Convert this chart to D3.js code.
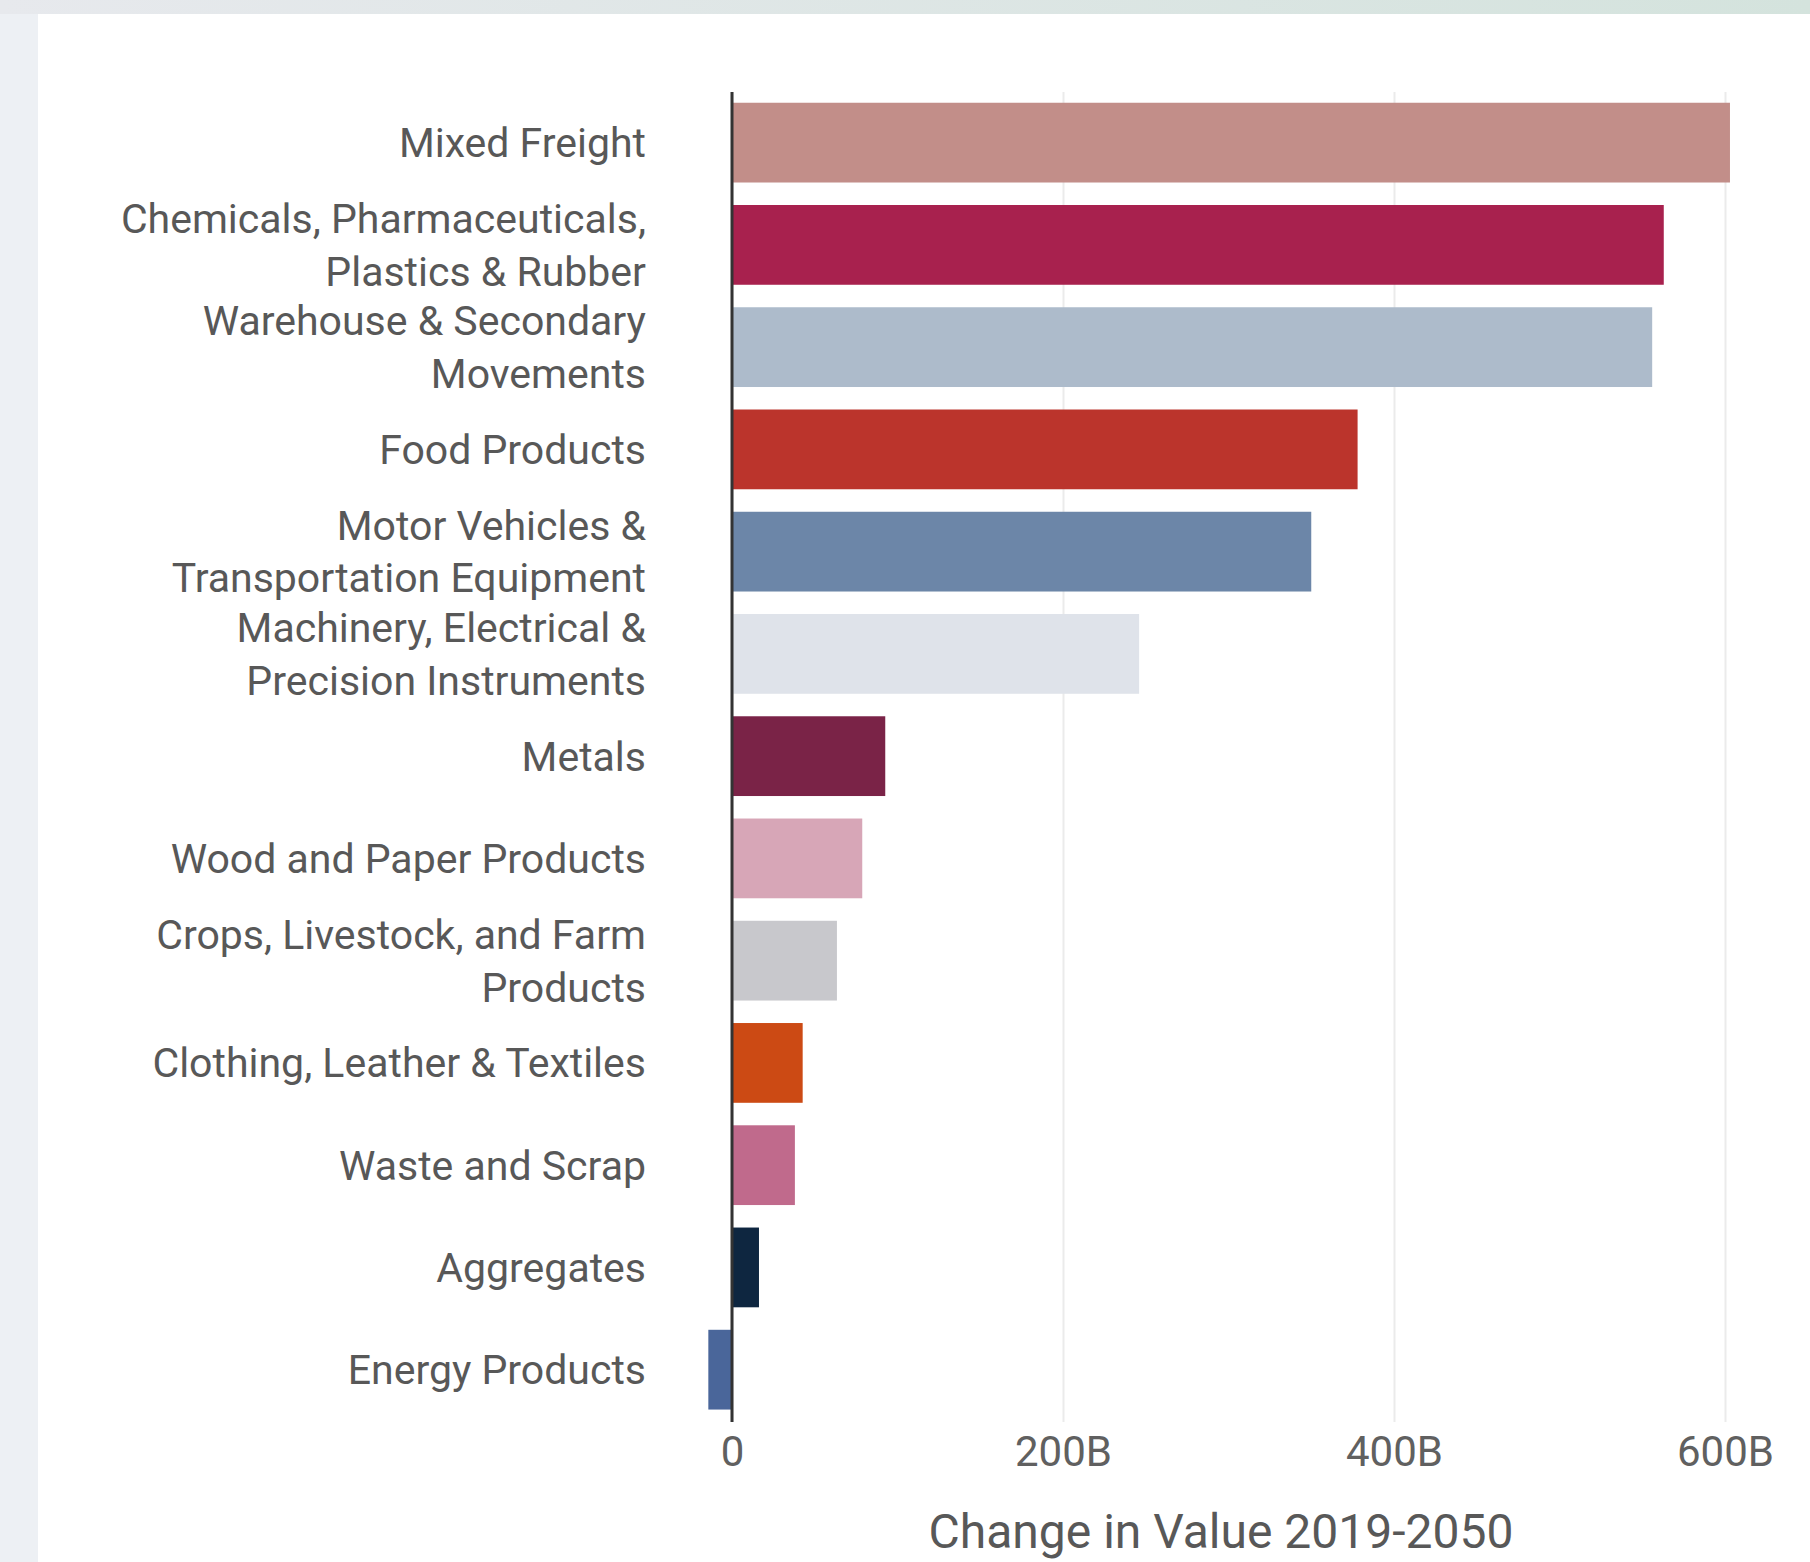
<!DOCTYPE html>
<html>
<head>
<meta charset="utf-8">
<script src="https://cdn.jsdelivr.net/npm/d3@7"></script>
<style>
  body { margin: 0; background: #edf0f4; }
  svg { display: block; font-family: Roboto, "Noto Sans", sans-serif; }
</style>
</head>
<body>
<div id="chart"></div>
<script>
// commodity groups, top to bottom
var categories = [
  "Mixed Freight",
  "Chemicals, Pharmaceuticals, Plastics & Rubber",
  "Warehouse & Secondary Movements",
  "Food Products",
  "Motor Vehicles & Transportation Equipment",
  "Machinery, Electrical & Precision Instruments",
  "Metals",
  "Wood and Paper Products",
  "Crops, Livestock, and Farm Products",
  "Clothing, Leather & Textiles",
  "Waste and Scrap",
  "Aggregates",
  "Energy Products"
]
// how each label wraps on the left
var labelLines = [
  ["Mixed Freight"],
  ["Chemicals, Pharmaceuticals,", "Plastics & Rubber"],
  ["Warehouse & Secondary", "Movements"],
  ["Food Products"],
  ["Motor Vehicles &", "Transportation Equipment"],
  ["Machinery, Electrical &", "Precision Instruments"],
  ["Metals"],
  ["Wood and Paper Products"],
  ["Crops, Livestock, and Farm", "Products"],
  ["Clothing, Leather & Textiles"],
  ["Waste and Scrap"],
  ["Aggregates"],
  ["Energy Products"]
]
// change in value 2019-2050, billions
var values = [603, 563, 556, 378, 350, 246, 92.6, 78.7, 63.4, 42.7, 38, 16.3, -14.3]
var barColors = ["#c28e89", "#a8214e", "#adbbcb", "#bb342c", "#6c86a8", "#dfe3ea",
  "#7a2347", "#d7a6b7", "#c8c8cc", "#cc4a14", "#c06a8c", "#0e2640", "#4a669a"]
var tickValues = [0, 200, 400, 600]
var tickLabels = ["0", "200B", "400B", "600B"]
var axisTitle = "Change in Value 2019-2050"

var W = 1810, H = 1562
var data = categories.map(function (c, i) {
  return { name: c, lines: labelLines[i], value: values[i], color: barColors[i] }
})

var svg = d3.select("#chart").append("svg")
  .attr("width", W)
  .attr("height", H)

// page background: grey frame, white card
var defs = svg.append("defs")
var grad = defs.append("linearGradient").attr("id", "topGrad")
grad.append("stop").attr("offset", "0%").attr("stop-color", "#e7e9ed")
grad.append("stop").attr("offset", "100%").attr("stop-color", "#d4e3dd")
svg.append("rect").attr("width", W).attr("height", H).attr("fill", "#edf0f4")
svg.append("rect").attr("width", W).attr("height", 14).attr("fill", "url(#topGrad)")
svg.append("rect").attr("x", 38).attr("y", 14).attr("width", W - 38).attr("height", H - 14)
  .attr("fill", "#ffffff")

var x = d3.scaleLinear()
  .domain([0, 600])
  .range([732, 1725])

var y = d3.scaleBand()
  .domain(categories)
  .range([91.5, 1420.8])
  .paddingInner(0.22)
  .paddingOuter(0.11)

var axisTop = 92, axisBottom = 1422

// grid lines
svg.append("g")
  .attr("class", "grid")
  .attr("transform", "translate(0," + axisBottom + ")")
  .call(d3.axisBottom(x).tickValues(tickValues).tickSize(-(axisBottom - axisTop)).tickFormat(""))
  .call(function (g) { g.select(".domain").remove() })
  .selectAll("line")
  .attr("stroke", "#ebebeb")
  .attr("stroke-width", 2)

// bars
svg.append("g").selectAll("rect")
  .data(data)
  .enter().append("rect")
  .attr("x", function (d) { return x(Math.min(0, d.value)) })
  .attr("y", function (d) { return y(d.name) })
  .attr("width", function (d) { return Math.abs(x(d.value) - x(0)) })
  .attr("height", y.bandwidth())
  .attr("fill", function (d) { return d.color })

// zero line
svg.append("line")
  .attr("x1", x(0)).attr("x2", x(0))
  .attr("y1", axisTop).attr("y2", axisBottom)
  .attr("stroke", "#333")
  .attr("stroke-width", 3)

// category labels
var lineH = 53
var labels = svg.append("g").selectAll("text")
  .data(data)
  .enter().append("text")
  .attr("text-anchor", "end")
  .attr("fill", "#585858")
  .style("font-size", "41px")
  .attr("transform", function (d) {
    return "translate(646," + (y(d.name) + y.bandwidth() / 2) + ")"
  })

labels.selectAll("tspan")
  .data(function (d) { return d.lines.map(function (l, i) { return { t: l, i: i, n: d.lines.length } }) })
  .enter().append("tspan")
  .attr("x", 0)
  .attr("y", function (d) { return (d.i - (d.n - 1) / 2) * lineH })
  .attr("dy", "0.35em")
  .text(function (d) { return d.t })

// x axis tick labels
svg.append("g")
  .attr("transform", "translate(0," + axisBottom + ")")
  .call(d3.axisBottom(x).tickValues(tickValues).tickSize(0).tickPadding(14)
    .tickFormat(function (d, i) { return tickLabels[i] }))
  .call(function (g) { g.select(".domain").remove() })
  .selectAll("text")
  .attr("fill", "#606060")
  .style("font-family", "Roboto, sans-serif")
  .style("font-size", "42px")

// axis title
svg.append("text")
  .attr("x", 1221)
  .attr("y", 1548)
  .attr("text-anchor", "middle")
  .attr("fill", "#585858")
  .style("font-size", "48px")
  .text(axisTitle)
</script>
</body>
</html>
